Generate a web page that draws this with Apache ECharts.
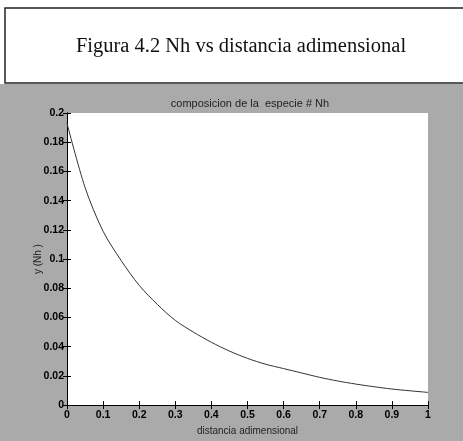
<!DOCTYPE html>
<html>
<head>
<meta charset="utf-8">
<script src="https://cdn.jsdelivr.net/npm/echarts@6/dist/echarts.min.js"></script>
<style>
  html, body { margin: 0; padding: 0; background: #fff; }
  #chart { width: 463px; height: 441px; }
</style>
</head>
<body>
<div id="chart"></div>
<script>
// distancia adimensional vs y(Nh)
const distancia = [0, 0.05, 0.1, 0.15, 0.2, 0.25, 0.3, 0.35, 0.4, 0.45, 0.5,
                   0.55, 0.6, 0.65, 0.7, 0.75, 0.8, 0.85, 0.9, 0.95, 1.0];
const nh = [0.193, 0.149, 0.119, 0.099, 0.082, 0.069, 0.058, 0.050, 0.043, 0.037, 0.032,
            0.028, 0.025, 0.022, 0.019, 0.0165, 0.0144, 0.0126, 0.011, 0.0098, 0.0087];
const xTicks = [0, 0.1, 0.2, 0.3, 0.4, 0.5, 0.6, 0.7, 0.8, 0.9, 1];

const chart = echarts.init(document.getElementById('chart'));

const tickLabel = { color: '#000', fontFamily: 'Arial', fontSize: 10.5, fontWeight: 'bold' };

chart.setOption({
  backgroundColor: '#fff',
  animation: false,
  graphic: [
    { type: 'rect', z: -10, shape: { x: 0, y: 84, width: 463, height: 357 }, style: { fill: '#aaaaaa' } },
    { type: 'rect', z: -9, shape: { x: 5, y: 8, width: 470, height: 75 }, style: { fill: '#fff', stroke: '#222', lineWidth: 1.5 } }
  ],
  title: [
    {
      text: 'Figura 4.2 Nh vs distancia adimensional',
      left: 236, top: 31, textAlign: 'center',
      textStyle: { fontFamily: 'Liberation Serif', fontSize: 20.5, fontWeight: 'normal', color: '#111' }
    },
    {
      text: 'composicion de la  especie # Nh',
      left: 245, top: 93, textAlign: 'center',
      textStyle: { fontFamily: 'Arial', fontSize: 11, fontWeight: 'normal', color: '#222' }
    }
  ],
  grid: { left: 67, right: 35, top: 113, bottom: 35, backgroundColor: '#fff', show: true, borderWidth: 0 },
  xAxis: [
    {
      type: 'value', min: 0, max: 1, interval: 0.1,
      name: 'distancia adimensional', nameLocation: 'middle', nameGap: 18,
      nameTextStyle: { fontFamily: 'Arial', fontSize: 10, color: '#222' },
      axisLine: { lineStyle: { color: '#000', width: 1 } },
      axisTick: { inside: true, length: 4, lineStyle: { color: '#000' } },
      axisLabel: Object.assign({ margin: 5, formatter: v => xTicks.includes(+v.toFixed(1)) ? String(+v.toFixed(1)) : '' }, tickLabel),
      splitLine: { show: false }
    },
    {
      type: 'value', min: 0, max: 1, interval: 0.1, position: 'top',
      axisLine: { lineStyle: { color: '#000', width: 1 } },
      axisTick: { inside: true, length: 4, lineStyle: { color: '#000' } },
      axisLabel: { show: false }, splitLine: { show: false }
    }
  ],
  yAxis: [
    {
      type: 'value', min: 0, max: 0.2, interval: 0.02,
      name: 'y (Nh )', nameLocation: 'middle', nameGap: 24, nameRotate: 90,
      nameMoveOverlap: false,
      nameTextStyle: { fontFamily: 'Arial', fontSize: 10, color: '#222' },
      axisLine: { show: true, lineStyle: { color: '#000', width: 1 } },
      axisTick: { show: true, inside: true, length: 4, lineStyle: { color: '#000' } },
      axisLabel: Object.assign({ margin: 3, formatter: v => String(+v.toFixed(2)) }, tickLabel),
      splitLine: { show: false }
    },
    {
      type: 'value', min: 0, max: 0.2, interval: 0.02, position: 'right',
      axisLine: { show: true, lineStyle: { color: '#000', width: 1 } },
      axisTick: { show: true, inside: true, length: 4, lineStyle: { color: '#000' } },
      axisLabel: { show: false }, splitLine: { show: false }
    }
  ],
  series: [
    {
      type: 'line',
      data: distancia.map((d, i) => [d, nh[i]]),
      smooth: 0.3,
      symbol: 'none',
      lineStyle: { color: '#333', width: 1 }
    }
  ]
});
</script>
</body>
</html>
